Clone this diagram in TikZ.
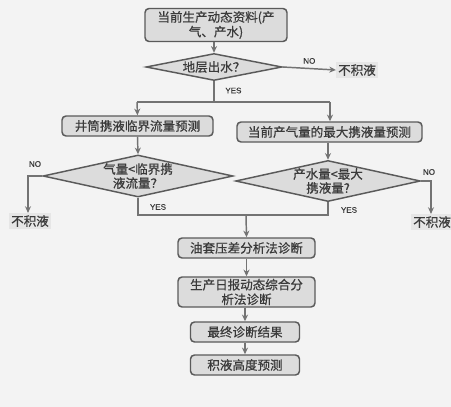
\documentclass[tikz,border=0pt]{standalone}
\usepackage{fontspec}
\setmainfont{Noto Sans CJK SC}[FakeBold=0.6]
\newfontfamily\latinfont{Liberation Sans}[FakeBold=0.5]
\usetikzlibrary{shapes.geometric,arrows.meta}
\definecolor{ink}{HTML}{3A3A3A}
\definecolor{edge}{HTML}{5A5A5A}
\definecolor{boxfill}{HTML}{DCDCDC}
\definecolor{bg}{HTML}{F3F3F3}
\tikzset{
  stepbox/.style={draw=edge, line width=1.1pt, fill=boxfill, rounded corners=3pt,
    inner sep=0pt, align=center, text=ink, font=\fontsize{9.4}{11}\selectfont},
  decide/.style={diamond, draw=edge, line width=1.1pt, fill=boxfill, inner sep=0pt,
    align=center, text=ink, font=\fontsize{9.4}{10.5}\selectfont},
  flow/.style={draw=edge!85, line width=1.1pt, -{Stealth[length=5pt,width=4.5pt]}},
  plain/.style={draw=edge!85, line width=1.1pt},
  tag/.style={text=ink, font=\latinfont\fontsize{6}{7}\selectfont, inner sep=0pt},
  outcome/.style={fill=boxfill!70, text=ink, inner sep=1.5pt, font=\fontsize{9.4}{11}\selectfont},
}
\begin{document}
\begin{tikzpicture}[x=0.75pt,y=-0.75pt]
\fill[bg] (0,0) rectangle (451,407);
\useasboundingbox (0,0) rectangle (451,407);

\node[stepbox, minimum width=106.5pt, minimum height=24.75pt] (src) at (216,25) {当前生产动态资料(产\\气、产水)};
\node[decide, aspect=5, minimum width=102pt, minimum height=20.25pt] (d1) at (214,67) {地层出水？};
\node[outcome] (n0) at (357,70) {不积液};
\coordinate (split) at (214,102);
\coordinate (splitL) at (137,102);
\coordinate (splitR) at (330,102);
\node[stepbox, minimum width=113.25pt, minimum height=15pt] (crit) at (137.5,126) {井筒携液临界流量预测};
\node[stepbox, minimum width=138.75pt, minimum height=15pt] (maxc) at (329.5,132) {当前产气量的最大携液量预测};
\node[decide, aspect=4.5, minimum width=142.5pt, minimum height=31.5pt] (dl) at (138,176) {气量<临界携\\液流量？};
\node[decide, aspect=4.5, minimum width=136.5pt, minimum height=30pt] (dr) at (328,181) {产水量<最大\\携液量?};
\coordinate (cL) at (28,176);
\coordinate (cR) at (431,181);
\node[outcome] (nl) at (30,221) {不积液};
\node[outcome] (nr) at (432,222) {不积液};
\coordinate (jl) at (138,215);
\coordinate (jr) at (328,215);
\coordinate (jm) at (246,215);
\node[stepbox, minimum width=102.75pt, minimum height=15pt] (b3) at (246.5,248) {油套压差分析法诊断};
\node[stepbox, minimum width=102.75pt, minimum height=22.5pt] (b4) at (246.5,292) {生产日报动态综合分\\析法诊断};
\node[stepbox, minimum width=81.75pt, minimum height=15pt] (b5) at (245,332) {最终诊断结果};
\node[stepbox, minimum width=81.75pt, minimum height=15pt] (b6) at (245,365) {积液高度预测};

\draw[flow] (src.south -| d1.north) -- (d1.north);
\draw[flow] (d1.east) -- (n0.west) node[tag, pos=0.5, above=3pt] {NO};
\draw[plain] (d1.south) -- (split) node[tag, pos=0.45, right=8pt] {YES};
\draw[plain] (splitL) -- (splitR);
\draw[flow] (splitL) -- (crit.north);
\draw[flow] (splitR) -- (maxc.north -| splitR);
\draw[flow] (crit.south) -- (dl.north);
\draw[flow] (maxc.south -| dr.north) -- (dr.north);
\draw[flow] (dl.west) -- (cL) -- (nl.north -| cL);
\node[tag] at (35,164) {NO};
\draw[flow] (dr.east) -- (cR) -- (nr.north -| cR);
\node[tag] at (429,172) {NO};
\draw[plain] (dl.south) -- (jl) -- (jr) -- (dr.south);
\node[tag] at (158,207) {YES};
\node[tag] at (349,210) {YES};
\draw[flow] (jm) -- (b3.north);
\draw[flow] (b3.south) -- (b4.north);
\draw[flow] (b4.south -| b5.north) -- (b5.north);
\draw[flow] (b5.south) -- (b6.north);
\end{tikzpicture}
\end{document}
